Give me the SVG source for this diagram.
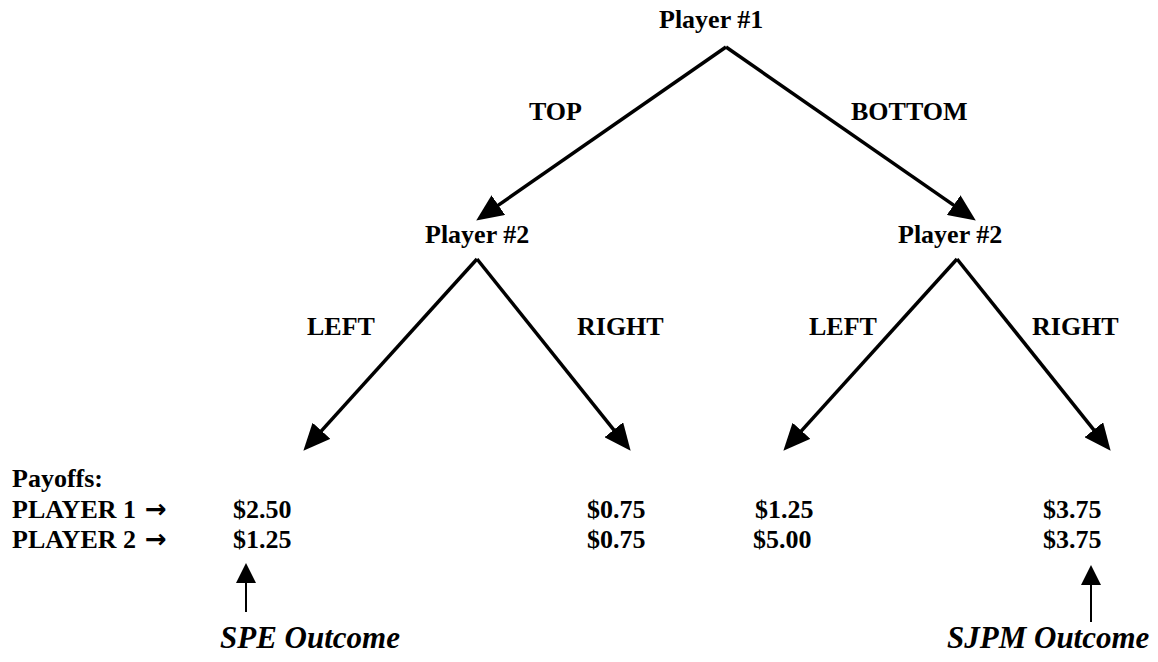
<svg xmlns="http://www.w3.org/2000/svg" width="1158" height="662" viewBox="0 0 1158 662">
<style>
text{font-family:"Liberation Serif","Times New Roman",serif;font-weight:bold;font-size:26px;fill:#000}
.it{font-style:italic;font-size:31px}
.ar{font-family:"DejaVu Sans",sans-serif;font-size:26px}
.br{stroke:#000;stroke-width:3.5;fill:none}
.thin{stroke:#000;stroke-width:2;fill:none}
</style>
<defs>
<marker id="ah" markerUnits="userSpaceOnUse" markerWidth="27" markerHeight="24" refX="18" refY="12" orient="auto"><path d="M0,0 L27,12 L0,24 z" fill="#000"/></marker>
<marker id="ah2" markerUnits="userSpaceOnUse" markerWidth="20" markerHeight="20" refX="14" refY="10" orient="auto"><path d="M0,0 L20,10 L0,20 z" fill="#000"/></marker>
</defs>
<rect width="1158" height="662" fill="#fff"/>
<g id="connectors">
<line class="br" x1="726" y1="47" x2="483.6" y2="215.4" marker-end="url(#ah)"/>
<line class="br" x1="726" y1="47" x2="968.4" y2="215.4" marker-end="url(#ah)"/>
<line class="br" x1="477" y1="259" x2="309.4" y2="444.1" marker-end="url(#ah)"/>
<line class="br" x1="477" y1="259" x2="625" y2="443.8" marker-end="url(#ah)"/>
<line class="br" x1="957" y1="259" x2="789.4" y2="444.1" marker-end="url(#ah)"/>
<line class="br" x1="957" y1="259" x2="1105" y2="443.8" marker-end="url(#ah)"/>
<line class="thin" x1="246" y1="612" x2="246" y2="569" marker-end="url(#ah2)"/>
<line class="thin" x1="1091" y1="622" x2="1091" y2="571" marker-end="url(#ah2)"/>
<text x="529" y="120">TOP</text>
<text x="851" y="120">BOTTOM</text>
<text x="307" y="335">LEFT</text>
<text x="577" y="335">RIGHT</text>
<text x="809" y="335">LEFT</text>
<text x="1032" y="335">RIGHT</text>
</g>
<g id="player1"><text x="659" y="28">Player #1</text></g>
<g id="player2-top"><text x="425" y="243">Player #2</text></g>
<g id="player2-bottom"><text x="898" y="243">Player #2</text></g>
<g id="legend">
<text x="12" y="487">Payoffs:</text>
<text x="12" y="518">PLAYER 1 <tspan class="ar" x="145">→</tspan></text>
<text x="12" y="548">PLAYER 2 <tspan class="ar" x="145">→</tspan></text>
</g>
<g id="outcome-tl"><text x="233" y="518">$2.50</text><text x="233" y="548">$1.25</text></g>
<g id="outcome-tr"><text x="587" y="518">$0.75</text><text x="587" y="548">$0.75</text></g>
<g id="outcome-bl"><text x="755" y="518">$1.25</text><text x="753" y="548">$5.00</text></g>
<g id="outcome-br"><text x="1043" y="518">$3.75</text><text x="1043" y="548">$3.75</text></g>
<g id="spe"><text class="it" x="220" y="648">SPE Outcome</text></g>
<g id="sjpm"><text class="it" x="947" y="648">SJPM Outcome</text></g>
</svg>
